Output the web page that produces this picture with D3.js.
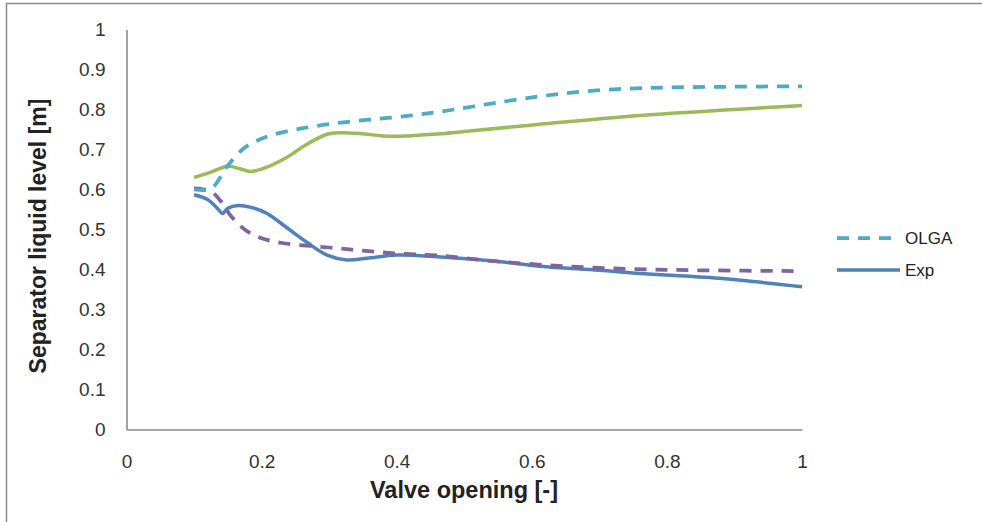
<!DOCTYPE html>
<html><head><meta charset="utf-8">
<script src="https://cdn.jsdelivr.net/npm/d3@7"></script>
<style>body{margin:0;background:#fff;}svg{display:block;font-family:"Liberation Sans",Arial,sans-serif;}</style>
</head><body>
<svg id="c" width="982" height="522"></svg>
<script>
const xTicks = [0, 0.2, 0.4, 0.6, 0.8, 1];
const yTicks = [0, 0.1, 0.2, 0.3, 0.4, 0.5, 0.6, 0.7, 0.8, 0.9, 1];
const xTickLabels = ["0", "0.2", "0.4", "0.6", "0.8", "1"];
const yTickLabels = ["0", "0.1", "0.2", "0.3", "0.4", "0.5", "0.6", "0.7", "0.8", "0.9", "1"];

const olgaX = [0.1, 0.125, 0.15, 0.173, 0.193, 0.217, 0.257, 0.306, 0.356, 0.405, 0.454, 0.5, 0.548, 0.612, 0.675, 0.74, 0.8, 0.9, 1.0];
const olgaY = [0.6, 0.602, 0.66, 0.702, 0.722, 0.737, 0.752, 0.765, 0.774, 0.782, 0.792, 0.804, 0.817, 0.833, 0.845, 0.852, 0.855, 0.857, 0.858];

const greenX = [0.1, 0.124, 0.15, 0.168, 0.183, 0.208, 0.237, 0.267, 0.297, 0.316, 0.346, 0.38, 0.415, 0.454, 0.5, 0.612, 0.76, 1.0];
const greenY = [0.63, 0.643, 0.658, 0.652, 0.645, 0.656, 0.68, 0.713, 0.738, 0.742, 0.74, 0.734, 0.734, 0.738, 0.745, 0.763, 0.785, 0.81];

const purpleX = [0.1, 0.125, 0.14, 0.155, 0.175, 0.2, 0.235, 0.3, 0.35, 0.4, 0.46, 0.55, 0.65, 0.75, 0.85, 1.0];
const purpleY = [0.603, 0.595, 0.57, 0.533, 0.5, 0.478, 0.465, 0.455, 0.447, 0.44, 0.435, 0.42, 0.408, 0.401, 0.398, 0.396];

const expX = [0.1, 0.12, 0.135, 0.142, 0.15, 0.165, 0.183, 0.208, 0.237, 0.267, 0.297, 0.326, 0.356, 0.4, 0.46, 0.55, 0.612, 0.7, 0.76, 0.877, 1.0];
const expY = [0.587, 0.575, 0.552, 0.54, 0.553, 0.56, 0.556, 0.54, 0.505, 0.468, 0.436, 0.424, 0.428, 0.436, 0.432, 0.42, 0.408, 0.398, 0.39, 0.378, 0.357];

const seriesNames = ["OLGA", "Exp"];

const svg = d3.select("#c");
// outer border
svg.append("rect").attr("x", 6.5).attr("y", 3.5).attr("width", 1000).attr("height", 600)
  .attr("fill", "none").attr("stroke", "#8c8c8c").attr("stroke-width", 1.5);

const x = d3.scaleLinear().domain([0, 1]).range([126.5, 802]);
const y = d3.scaleLinear().domain([0, 1]).range([429.5, 29.5]);

const gx = svg.append("g").attr("transform", `translate(0,${y(0)})`)
  .call(d3.axisBottom(x).tickValues(xTicks).tickFormat((d, i) => xTickLabels[i]).tickSize(0).tickPadding(25));
const gy = svg.append("g").attr("transform", `translate(${x(0)},0)`)
  .call(d3.axisLeft(y).tickValues(yTicks).tickFormat((d, i) => yTickLabels[i]).tickSize(0).tickPadding(21));
[gx, gy].forEach(g => {
  g.select(".domain").attr("stroke", "#868686").attr("stroke-width", 1.5);
  g.selectAll("text").attr("fill", "#333").style("font-size", "19px").style("font-family", '"Liberation Sans",Arial,sans-serif');
});

svg.append("text").attr("x", 464).attr("y", 498).attr("text-anchor", "middle")
  .style("font-size", "23.5px").style("font-weight", "bold").attr("fill", "#222").text("Valve opening [-]");
svg.append("text").attr("transform", "translate(46,236) rotate(-90)").attr("text-anchor", "middle")
  .style("font-size", "23px").style("font-weight", "bold").attr("fill", "#222").text("Separator liquid level [m]");

const line = d3.line().x(d => x(d[0])).y(d => y(d[1])).curve(d3.curveCatmullRom.alpha(0.5));
const zip = (a, b) => a.map((v, i) => [v, b[i]]);

const series = [
  {xs: expX, ys: expY, color: "#4F81BD", dash: null},
  {xs: greenX, ys: greenY, color: "#9BBB59", dash: null},
  {xs: purpleX, ys: purpleY, color: "#8064A2", dash: "12,9"},
  {xs: olgaX, ys: olgaY, color: "#4BACC6", dash: "12,9"}
];
series.forEach(s => {
  svg.append("path").attr("d", line(zip(s.xs, s.ys))).attr("fill", "none")
    .attr("stroke", s.color).attr("stroke-width", s.dash ? 3.75 : 3.5)
    .attr("stroke-dasharray", s.dash).attr("stroke-linejoin", "round");
});

// legend
const leg = [{name: seriesNames[0], color: "#4BACC6", dash: "12,9", yy: 238},
             {name: seriesNames[1], color: "#4F81BD", dash: null, yy: 270}];
leg.forEach(l => {
  svg.append("line").attr("x1", 837).attr("x2", 900).attr("y1", l.yy).attr("y2", l.yy)
    .attr("stroke", l.color).attr("stroke-width", l.dash ? 3.75 : 3.5).attr("stroke-dasharray", l.dash);
  svg.append("text").attr("x", 905).attr("y", l.yy + 6).style("font-size", "17px").attr("fill", "#222").text(l.name);
});
</script>
</body></html>
